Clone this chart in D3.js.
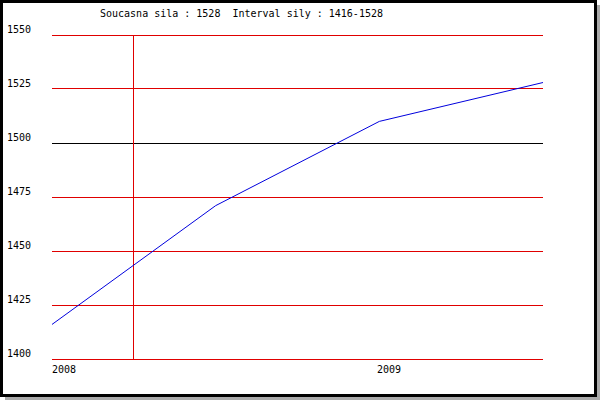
<!DOCTYPE html>
<html><head><meta charset="utf-8">
<script src="https://cdn.jsdelivr.net/npm/d3@7"></script>
<style>html,body{margin:0;padding:0;background:#fff;}svg{display:block;}</style>
</head><body>
<svg id="c" width="600" height="400"></svg>
<script>
const periods = ["2008-01", "2008-07", "2009-01", "2009-07"];
const values = [1416, 1471, 1510, 1528];
const yTicks = [1400, 1425, 1450, 1475, 1500, 1525, 1550];
const xTickLabels = ["2008", "2009"];
const xTickIndex = [0, 2];
const markerIndex = [0.5];
const titleText = "Soucasna sila : 1528  Interval sily : 1416-1528";

const svg = d3.select("#c");
const font = "'DejaVu Sans Mono', monospace";

// frame with shadow
svg.append("rect").attr("x",5).attr("y",5).attr("width",595).attr("height",395).attr("fill","#aaaaaa");
svg.append("rect").attr("x",0).attr("y",0).attr("width",597).attr("height",397).attr("fill","#000");
svg.append("rect").attr("x",3).attr("y",3).attr("width",591).attr("height",391).attr("fill","#fff");

const x = d3.scaleLinear().domain([0, periods.length-1]).range([52, 543]);
const y = d3.scaleLinear().domain([1400, 1550]).range([359, 35]);
const px = v => Math.floor(v) + 0.5;

// horizontal gridlines
svg.append("g").selectAll("line").data(yTicks).join("line")
  .attr("x1", 52).attr("x2", 543)
  .attr("y1", d => px(y(d))).attr("y2", d => px(y(d)))
  .attr("stroke", d => d === 1500 ? "#000" : "#e00000")
  .attr("stroke-width", 1).attr("shape-rendering","crispEdges");

// vertical marker line
svg.append("g").selectAll("line").data(markerIndex).join("line")
  .attr("x1", d => px(x(d))).attr("x2", d => px(x(d)))
  .attr("y1", y(1550)).attr("y2", y(1400)+1)
  .attr("stroke", "#e00000").attr("stroke-width",1).attr("shape-rendering","crispEdges");

// y labels
svg.append("g").selectAll("text").data(yTicks).join("text")
  .attr("x", 7).attr("y", d => y(d) - 2)
  .attr("font-family", font).attr("font-size", 10).attr("fill","#000")
  .text(d => d);

// x labels
svg.append("g").selectAll("text").data(xTickIndex).join("text")
  .attr("x", (d,i) => Math.round(x(d)) - (i ? 2 : 0)).attr("y", 373)
  .attr("font-family", font).attr("font-size", 10).attr("fill","#000")
  .text((d,i) => xTickLabels[i]);

// line
const line = d3.line().x((d,i) => x(i)).y(d => y(d));
svg.append("path").datum(values).attr("d", line)
  .attr("fill","none").attr("stroke","#0000dd").attr("stroke-width",1);

// title
svg.append("text").attr("x",100).attr("y",17)
  .attr("font-family", font).attr("font-size", 10).attr("fill","#000")
  .attr("xml:space","preserve").style("white-space","pre")
  .text(titleText);
</script>
</body></html>
